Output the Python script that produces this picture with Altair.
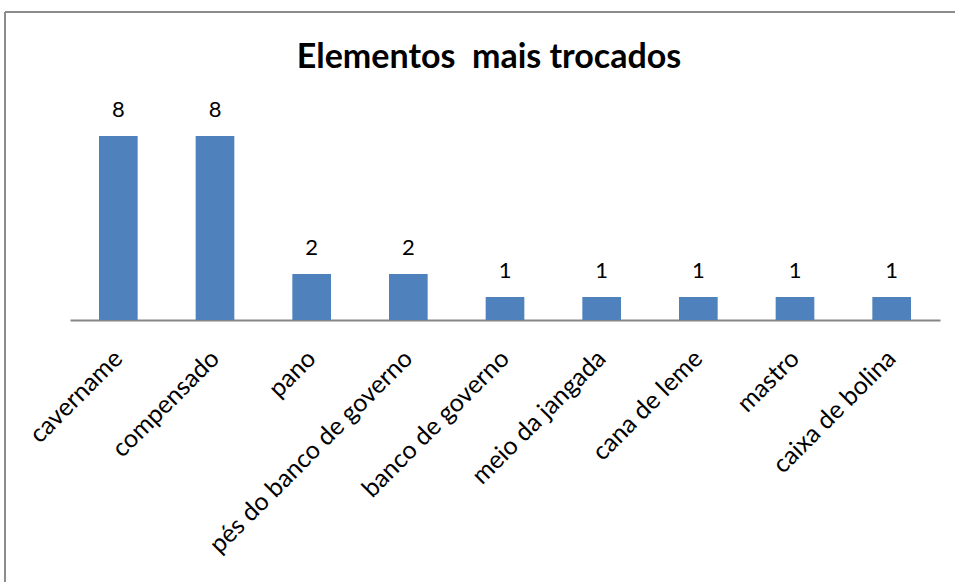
import altair as alt
import pandas as pd

# Most frequently replaced parts
elementos = [
    "cavername", "compensado", "pano", "pés do banco de governo",
    "banco de governo", "meio da jangada", "cana de leme", "mastro",
    "caixa de bolina",
]
quantidade = [8, 8, 2, 2, 1, 1, 1, 1, 1]
titulo = "Elementos\u00a0 mais trocados"

df = pd.DataFrame({"elemento": elementos, "qtd": quantidade})

FONT = "Lato"
BLUE = "#4F81BD"
GRAY = "#868686"

x_enc = alt.X(
    "elemento:N",
    sort=elementos,
    scale=alt.Scale(paddingInner=0.6, paddingOuter=0.3),
    axis=alt.Axis(
        title=None,
        labelAngle=-45,
        labelAlign="right",
        labelBaseline="middle",
        labelPadding=34,
        labelFont=FONT,
        labelFontSize=25,
        labelColor="#000000",
        labelLimit=400,
        ticks=False,
        domainColor=GRAY,
        domainWidth=2,
        grid=False,
    ),
)
y_enc = alt.Y("qtd:Q", scale=alt.Scale(domain=[0, 8], nice=False), axis=None)

bars = alt.Chart(df).mark_bar(color=BLUE).encode(x=x_enc, y=y_enc)

labels = alt.Chart(df).mark_text(
    font=FONT, fontSize=22, color="#000000", baseline="bottom", dy=-14
).encode(x=x_enc, y=y_enc, text="qtd:Q")

# chart heading, placed above the plot area
heading = alt.Chart(pd.DataFrame({"t": [titulo]})).mark_text(
    font=FONT, fontSize=34, fontWeight="bold", color="#000000",
    align="center", baseline="middle",
).encode(x=alt.value(419), y=alt.value(-78), text="t:N")

# outer frame of the chart (top and left edges)
frame_top = alt.Chart(df).mark_rule(color="#8c8c8c", strokeWidth=2).encode(
    x=alt.value(-65), x2=alt.value(900), y=alt.value(-124)
)
frame_left = alt.Chart(df).mark_rule(color="#8c8c8c", strokeWidth=2).encode(
    x=alt.value(-65), y=alt.value(-124), y2=alt.value(460)
)

chart = (
    alt.layer(frame_top, frame_left, heading, bars, labels)
    .properties(
        width=870,
        height=184,
        autosize=alt.AutoSizeParams(type="none"),
        padding={"left": 70, "top": 136, "right": 15, "bottom": 262},
        view=alt.ViewBackground(stroke="transparent", strokeOpacity=0),
    )
    .configure_view(stroke="transparent", strokeOpacity=0)
    .configure(background="white")
)

chart.save("out.html", embed_options={"renderer": "svg", "actions": False})
